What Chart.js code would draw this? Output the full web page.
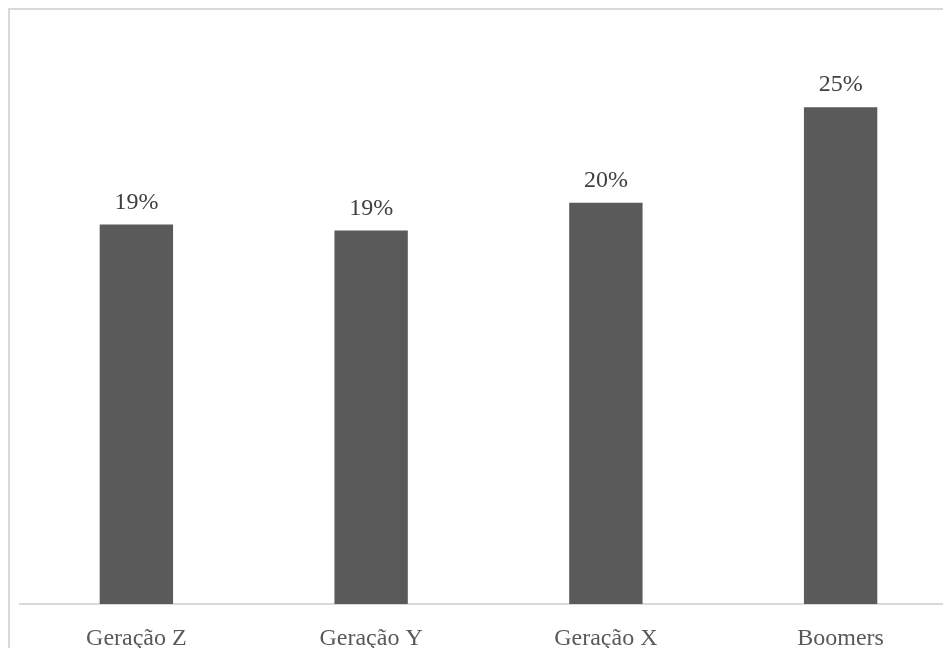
<!DOCTYPE html>
<html lang="pt-BR">
<head>
<meta charset="utf-8">
<title>Gerações</title>
<script src="https://cdn.jsdelivr.net/npm/chart.js@4/dist/chart.umd.min.js"></script>
<style>
    html, body { margin: 0; padding: 0; background: #fff; overflow: hidden; }
    body { width: 943px; height: 648px; position: relative; }
    .moldura {
        position: absolute; left: 8px; top: 8px; width: 1000px; height: 700px;
        border-top: 2px solid #d9d9d9; border-left: 2px solid #d9d9d9;
    }
    #graficoGeracoes { position: absolute; left: 19px; top: 10px; }
</style>
</head>
<body>
<div class="moldura"></div>
<canvas id="graficoGeracoes" width="939" height="638"></canvas>
<script>
// Dados (percentual por geração)
const categorias = ['Geração Z', 'Geração Y', 'Geração X', 'Boomers'];
const valores = [19.1, 18.8, 20.2, 25.0];
const rotulos = ['19%', '19%', '20%', '25%'];

const fonteSerif = '"Liberation Serif", "DejaVu Serif", serif';

// Escreve o valor em cima de cada barra
const rotulosBarras = {
    id: 'rotulosBarras',
    afterDatasetsDraw(chart) {
        const ctx = chart.ctx;
        const meta = chart.getDatasetMeta(0);
        ctx.save();
        ctx.font = '24px ' + fonteSerif;
        ctx.fillStyle = '#404040';
        ctx.textAlign = 'center';
        ctx.textBaseline = 'alphabetic';
        meta.data.forEach((barra, i) => {
            ctx.fillText(rotulos[i], barra.x, barra.y - 16);
        });
        ctx.restore();
    }
};

new Chart(document.getElementById('graficoGeracoes'), {
    type: 'bar',
    data: {
        labels: categorias,
        datasets: [{
            data: valores,
            backgroundColor: '#5a5a5a',
            barPercentage: 0.3125,
            categoryPercentage: 1
        }]
    },
    options: {
        responsive: false,
        animation: false,
        devicePixelRatio: 1,
        layout: { padding: 0 },
        plugins: { legend: { display: false }, tooltip: { enabled: false } },
        scales: {
            x: {
                grid: { display: false, drawTicks: false },
                border: { display: true, color: '#d9d9d9', width: 2 },
                ticks: {
                    color: '#595959',
                    padding: 20,
                    font: { family: fonteSerif, size: 24 }
                },
                afterFit: function(escala) { escala.height = 44; }
            },
            y: {
                display: false,
                min: 0,
                max: 29.9
            }
        }
    },
    plugins: [rotulosBarras]
});
</script>
</body>
</html>
